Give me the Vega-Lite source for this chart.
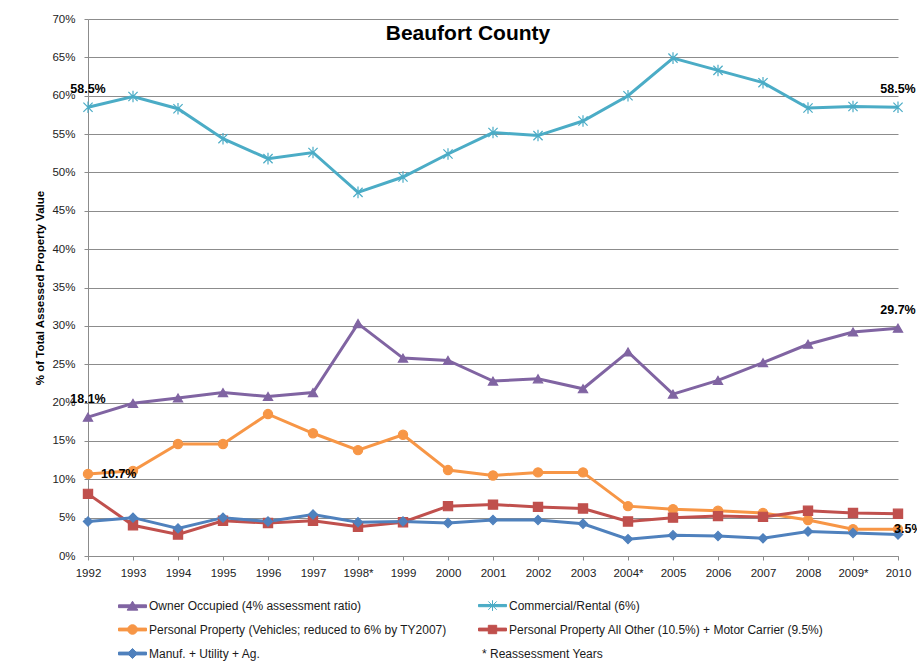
{
  "$schema": "https://vega.github.io/schema/vega-lite/v6.json",
  "width": 810,
  "height": 537,
  "autosize": "none",
  "padding": {"left": 88, "top": 19, "right": 19, "bottom": 110},
  "background": "white",
  "config": {
    "view": {"stroke": null},
    "font": "Liberation Sans",
    "axis": {"labelFont": "Liberation Sans", "labelFontSize": 11.5, "labelColor": "#222222", "domainColor": "#8c8c8c", "tickColor": "#8c8c8c", "tickSize": 4}
  },
  "title": {
    "text": "Beaufort County",
    "font": "Liberation Sans",
    "fontSize": 21,
    "fontWeight": "bold",
    "color": "#000000",
    "anchor": "middle",
    "baseline": "alphabetic",
    "dx": -25,
    "offset": -48
  },
  "data": {
    "values": [
      {"series": "Owner Occupied (4% assessment ratio)", "year": "1992", "value": 18.1, "label": "18.1%"},
      {"series": "Owner Occupied (4% assessment ratio)", "year": "1993", "value": 19.9},
      {"series": "Owner Occupied (4% assessment ratio)", "year": "1994", "value": 20.6},
      {"series": "Owner Occupied (4% assessment ratio)", "year": "1995", "value": 21.3},
      {"series": "Owner Occupied (4% assessment ratio)", "year": "1996", "value": 20.8},
      {"series": "Owner Occupied (4% assessment ratio)", "year": "1997", "value": 21.3},
      {"series": "Owner Occupied (4% assessment ratio)", "year": "1998*", "value": 30.3},
      {"series": "Owner Occupied (4% assessment ratio)", "year": "1999", "value": 25.8},
      {"series": "Owner Occupied (4% assessment ratio)", "year": "2000", "value": 25.5},
      {"series": "Owner Occupied (4% assessment ratio)", "year": "2001", "value": 22.8},
      {"series": "Owner Occupied (4% assessment ratio)", "year": "2002", "value": 23.1},
      {"series": "Owner Occupied (4% assessment ratio)", "year": "2003", "value": 21.8},
      {"series": "Owner Occupied (4% assessment ratio)", "year": "2004*", "value": 26.6},
      {"series": "Owner Occupied (4% assessment ratio)", "year": "2005", "value": 21.1},
      {"series": "Owner Occupied (4% assessment ratio)", "year": "2006", "value": 22.9},
      {"series": "Owner Occupied (4% assessment ratio)", "year": "2007", "value": 25.2},
      {"series": "Owner Occupied (4% assessment ratio)", "year": "2008", "value": 27.6},
      {"series": "Owner Occupied (4% assessment ratio)", "year": "2009*", "value": 29.2},
      {"series": "Owner Occupied (4% assessment ratio)", "year": "2010", "value": 29.7, "label": "29.7%"},
      {"series": "Commercial/Rental (6%)", "year": "1992", "value": 58.5, "label": "58.5%"},
      {"series": "Commercial/Rental (6%)", "year": "1993", "value": 59.9},
      {"series": "Commercial/Rental (6%)", "year": "1994", "value": 58.3},
      {"series": "Commercial/Rental (6%)", "year": "1995", "value": 54.4},
      {"series": "Commercial/Rental (6%)", "year": "1996", "value": 51.8},
      {"series": "Commercial/Rental (6%)", "year": "1997", "value": 52.6},
      {"series": "Commercial/Rental (6%)", "year": "1998*", "value": 47.4},
      {"series": "Commercial/Rental (6%)", "year": "1999", "value": 49.4},
      {"series": "Commercial/Rental (6%)", "year": "2000", "value": 52.4},
      {"series": "Commercial/Rental (6%)", "year": "2001", "value": 55.2},
      {"series": "Commercial/Rental (6%)", "year": "2002", "value": 54.8},
      {"series": "Commercial/Rental (6%)", "year": "2003", "value": 56.7},
      {"series": "Commercial/Rental (6%)", "year": "2004*", "value": 60.0},
      {"series": "Commercial/Rental (6%)", "year": "2005", "value": 64.9},
      {"series": "Commercial/Rental (6%)", "year": "2006", "value": 63.3},
      {"series": "Commercial/Rental (6%)", "year": "2007", "value": 61.7},
      {"series": "Commercial/Rental (6%)", "year": "2008", "value": 58.4},
      {"series": "Commercial/Rental (6%)", "year": "2009*", "value": 58.6},
      {"series": "Commercial/Rental (6%)", "year": "2010", "value": 58.5, "label": "58.5%"},
      {"series": "Personal Property (Vehicles; reduced to 6% by TY2007)", "year": "1992", "value": 10.7, "label": "10.7%"},
      {"series": "Personal Property (Vehicles; reduced to 6% by TY2007)", "year": "1993", "value": 11.1},
      {"series": "Personal Property (Vehicles; reduced to 6% by TY2007)", "year": "1994", "value": 14.6},
      {"series": "Personal Property (Vehicles; reduced to 6% by TY2007)", "year": "1995", "value": 14.6},
      {"series": "Personal Property (Vehicles; reduced to 6% by TY2007)", "year": "1996", "value": 18.5},
      {"series": "Personal Property (Vehicles; reduced to 6% by TY2007)", "year": "1997", "value": 16.0},
      {"series": "Personal Property (Vehicles; reduced to 6% by TY2007)", "year": "1998*", "value": 13.8},
      {"series": "Personal Property (Vehicles; reduced to 6% by TY2007)", "year": "1999", "value": 15.8},
      {"series": "Personal Property (Vehicles; reduced to 6% by TY2007)", "year": "2000", "value": 11.2},
      {"series": "Personal Property (Vehicles; reduced to 6% by TY2007)", "year": "2001", "value": 10.5},
      {"series": "Personal Property (Vehicles; reduced to 6% by TY2007)", "year": "2002", "value": 10.9},
      {"series": "Personal Property (Vehicles; reduced to 6% by TY2007)", "year": "2003", "value": 10.9},
      {"series": "Personal Property (Vehicles; reduced to 6% by TY2007)", "year": "2004*", "value": 6.5},
      {"series": "Personal Property (Vehicles; reduced to 6% by TY2007)", "year": "2005", "value": 6.1},
      {"series": "Personal Property (Vehicles; reduced to 6% by TY2007)", "year": "2006", "value": 5.9},
      {"series": "Personal Property (Vehicles; reduced to 6% by TY2007)", "year": "2007", "value": 5.6},
      {"series": "Personal Property (Vehicles; reduced to 6% by TY2007)", "year": "2008", "value": 4.7},
      {"series": "Personal Property (Vehicles; reduced to 6% by TY2007)", "year": "2009*", "value": 3.5},
      {"series": "Personal Property (Vehicles; reduced to 6% by TY2007)", "year": "2010", "value": 3.5, "label": "3.5%"},
      {"series": "Personal Property All Other (10.5%) + Motor Carrier (9.5%)", "year": "1992", "value": 8.1},
      {"series": "Personal Property All Other (10.5%) + Motor Carrier (9.5%)", "year": "1993", "value": 4.0},
      {"series": "Personal Property All Other (10.5%) + Motor Carrier (9.5%)", "year": "1994", "value": 2.8},
      {"series": "Personal Property All Other (10.5%) + Motor Carrier (9.5%)", "year": "1995", "value": 4.6},
      {"series": "Personal Property All Other (10.5%) + Motor Carrier (9.5%)", "year": "1996", "value": 4.3},
      {"series": "Personal Property All Other (10.5%) + Motor Carrier (9.5%)", "year": "1997", "value": 4.6},
      {"series": "Personal Property All Other (10.5%) + Motor Carrier (9.5%)", "year": "1998*", "value": 3.8},
      {"series": "Personal Property All Other (10.5%) + Motor Carrier (9.5%)", "year": "1999", "value": 4.4},
      {"series": "Personal Property All Other (10.5%) + Motor Carrier (9.5%)", "year": "2000", "value": 6.5},
      {"series": "Personal Property All Other (10.5%) + Motor Carrier (9.5%)", "year": "2001", "value": 6.7},
      {"series": "Personal Property All Other (10.5%) + Motor Carrier (9.5%)", "year": "2002", "value": 6.4},
      {"series": "Personal Property All Other (10.5%) + Motor Carrier (9.5%)", "year": "2003", "value": 6.2},
      {"series": "Personal Property All Other (10.5%) + Motor Carrier (9.5%)", "year": "2004*", "value": 4.5},
      {"series": "Personal Property All Other (10.5%) + Motor Carrier (9.5%)", "year": "2005", "value": 5.0},
      {"series": "Personal Property All Other (10.5%) + Motor Carrier (9.5%)", "year": "2006", "value": 5.2},
      {"series": "Personal Property All Other (10.5%) + Motor Carrier (9.5%)", "year": "2007", "value": 5.1},
      {"series": "Personal Property All Other (10.5%) + Motor Carrier (9.5%)", "year": "2008", "value": 5.9},
      {"series": "Personal Property All Other (10.5%) + Motor Carrier (9.5%)", "year": "2009*", "value": 5.6},
      {"series": "Personal Property All Other (10.5%) + Motor Carrier (9.5%)", "year": "2010", "value": 5.5},
      {"series": "Manuf. + Utility + Ag.", "year": "1992", "value": 4.5},
      {"series": "Manuf. + Utility + Ag.", "year": "1993", "value": 5.0},
      {"series": "Manuf. + Utility + Ag.", "year": "1994", "value": 3.6},
      {"series": "Manuf. + Utility + Ag.", "year": "1995", "value": 5.0},
      {"series": "Manuf. + Utility + Ag.", "year": "1996", "value": 4.5},
      {"series": "Manuf. + Utility + Ag.", "year": "1997", "value": 5.4},
      {"series": "Manuf. + Utility + Ag.", "year": "1998*", "value": 4.4},
      {"series": "Manuf. + Utility + Ag.", "year": "1999", "value": 4.5},
      {"series": "Manuf. + Utility + Ag.", "year": "2000", "value": 4.3},
      {"series": "Manuf. + Utility + Ag.", "year": "2001", "value": 4.7},
      {"series": "Manuf. + Utility + Ag.", "year": "2002", "value": 4.7},
      {"series": "Manuf. + Utility + Ag.", "year": "2003", "value": 4.2},
      {"series": "Manuf. + Utility + Ag.", "year": "2004*", "value": 2.2},
      {"series": "Manuf. + Utility + Ag.", "year": "2005", "value": 2.7},
      {"series": "Manuf. + Utility + Ag.", "year": "2006", "value": 2.6},
      {"series": "Manuf. + Utility + Ag.", "year": "2007", "value": 2.3},
      {"series": "Manuf. + Utility + Ag.", "year": "2008", "value": 3.2},
      {"series": "Manuf. + Utility + Ag.", "year": "2009*", "value": 3.0},
      {"series": "Manuf. + Utility + Ag.", "year": "2010", "value": 2.8}
    ]
  },
  "encoding": {
    "x": {
      "field": "year",
      "type": "ordinal",
      "sort": null,
      "scale": {"type": "point", "padding": 0},
      "axis": {"title": null, "labelAngle": 0, "labelPadding": 7, "grid": false, "domainColor": "#8c8c8c"}
    },
    "y": {
      "field": "value",
      "type": "quantitative",
      "scale": {"domain": [0, 70], "nice": false, "zero": true},
      "axis": {
        "values": [0, 5, 10, 15, 20, 25, 30, 35, 40, 45, 50, 55, 60, 65, 70],
        "labelExpr": "datum.value + '%'",
        "labelPadding": 9,
        "grid": true,
        "gridColor": "#8c8c8c",
        "gridWidth": 1,
        "title": "% of Total Assessed Property Value",
        "titleFont": "Liberation Sans",
        "titleFontSize": 11.5,
        "titleFontWeight": "bold",
        "titleColor": "#000000",
        "titlePadding": 6
      }
    },
    "color": {
      "field": "series",
      "type": "nominal",
      "scale": {
        "domain": ["Owner Occupied (4% assessment ratio)", "Commercial/Rental (6%)", "Personal Property (Vehicles; reduced to 6% by TY2007)", "Personal Property All Other (10.5%) + Motor Carrier (9.5%)", "Manuf. + Utility + Ag.", "* Reassessment Years"],
        "range": ["#8064A2", "#4BACC6", "#F79646", "#C0504D", "#4F81BD", "transparent"]
      },
      "legend": {
        "title": null,
        "orient": "none",
        "legendX": 30,
        "legendY": 572,
        "direction": "horizontal",
        "columns": 2,
        "padding": 0,
        "symbolSize": 784,
        "labelOffset": 2,
        "labelFont": "Liberation Sans",
        "labelFontSize": 12,
        "labelColor": "#1a1a1a",
        "labelLimit": 500,
        "rowPadding": 2,
        "columnPadding": 29,
        "encode": {
          "symbols": {
            "update": {
              "shape": {"signal": "datum.value === 'Owner Occupied (4% assessment ratio)' ? 'M-1,-0.1H1V0.1H-1Z M0,-0.36L0.38,0.28L-0.38,0.28Z' : datum.value === 'Commercial/Rental (6%)' ? 'M-1,-0.08H1V0.08H-1Z M-0.3,-0.3L0.3,0.3 M-0.3,0.3L0.3,-0.3 M0,-0.38L0,0.38' : datum.value === 'Personal Property (Vehicles; reduced to 6% by TY2007)' ? 'M-1,-0.1H1V0.1H-1Z M-0.34,0 A0.34,0.34 0 1,1 0.34,0 A0.34,0.34 0 1,1 -0.34,0Z' : datum.value === 'Personal Property All Other (10.5%) + Motor Carrier (9.5%)' ? 'M-1,-0.1H1V0.1H-1Z M-0.3,-0.3H0.3V0.3H-0.3Z' : datum.value === 'Manuf. + Utility + Ag.' ? 'M-1,-0.1H1V0.1H-1Z M0,-0.36L0.36,0L0,0.36L-0.36,0Z' : 'M0,0Z'"},
              "fill": {"scale": "color", "field": "value"},
              "stroke": {"scale": "color", "field": "value"},
              "strokeWidth": {"value": 1},
              "opacity": {"value": 1},
              "fillOpacity": {"value": 1}
            }
          },
          "labels": {
            "update": {
              "dx": {"signal": "datum.value === '* Reassessment Years' ? -27 : 0"}
            }
          }
        }
      }
    }
  },
  "layer": [
    {
      "mark": {"type": "line", "strokeWidth": 3}
    },
    {
      "mark": {"type": "point", "filled": true, "opacity": 1, "strokeWidth": 1.2, "size": 85},
      "encoding": {
        "shape": {
          "field": "series",
          "type": "nominal",
          "scale": {
            "domain": ["Owner Occupied (4% assessment ratio)", "Commercial/Rental (6%)", "Personal Property (Vehicles; reduced to 6% by TY2007)", "Personal Property All Other (10.5%) + Motor Carrier (9.5%)", "Manuf. + Utility + Ag."],
            "range": ["triangle-up", "M-1,-1L1,1M-1,1L1,-1M0,-1.25L0,1.25", "circle", "square", "diamond"]
          },
          "legend": null
        },
        "stroke": {
          "field": "series",
          "type": "nominal",
          "scale": {
            "domain": ["Owner Occupied (4% assessment ratio)", "Commercial/Rental (6%)", "Personal Property (Vehicles; reduced to 6% by TY2007)", "Personal Property All Other (10.5%) + Motor Carrier (9.5%)", "Manuf. + Utility + Ag.", "* Reassessment Years"],
            "range": ["#8064A2", "#4BACC6", "#F79646", "#C0504D", "#4F81BD", "transparent"]
          },
          "legend": null
        }
      }
    },
    {
      "transform": [{"filter": "datum.label && datum.series !== 'Personal Property (Vehicles; reduced to 6% by TY2007)'"}],
      "mark": {"type": "text", "font": "Liberation Sans", "fontSize": 12.5, "fontWeight": "bold", "align": "center", "baseline": "middle", "dy": -18},
      "encoding": {"text": {"field": "label"}, "color": {"value": "#000000"}}
    },
    {
      "transform": [{"filter": "datum.label && datum.series === 'Personal Property (Vehicles; reduced to 6% by TY2007)' && datum.year === '1992'"}],
      "mark": {"type": "text", "font": "Liberation Sans", "fontSize": 12.5, "fontWeight": "bold", "align": "left", "baseline": "middle", "dx": 13},
      "encoding": {"text": {"field": "label"}, "color": {"value": "#000000"}}
    },
    {
      "transform": [{"filter": "datum.label && datum.series === 'Personal Property (Vehicles; reduced to 6% by TY2007)' && datum.year === '2010'"}],
      "mark": {"type": "text", "font": "Liberation Sans", "fontSize": 12.5, "fontWeight": "bold", "align": "left", "baseline": "middle", "dx": -4},
      "encoding": {"text": {"field": "label"}, "color": {"value": "#000000"}}
    }
  ]
}
